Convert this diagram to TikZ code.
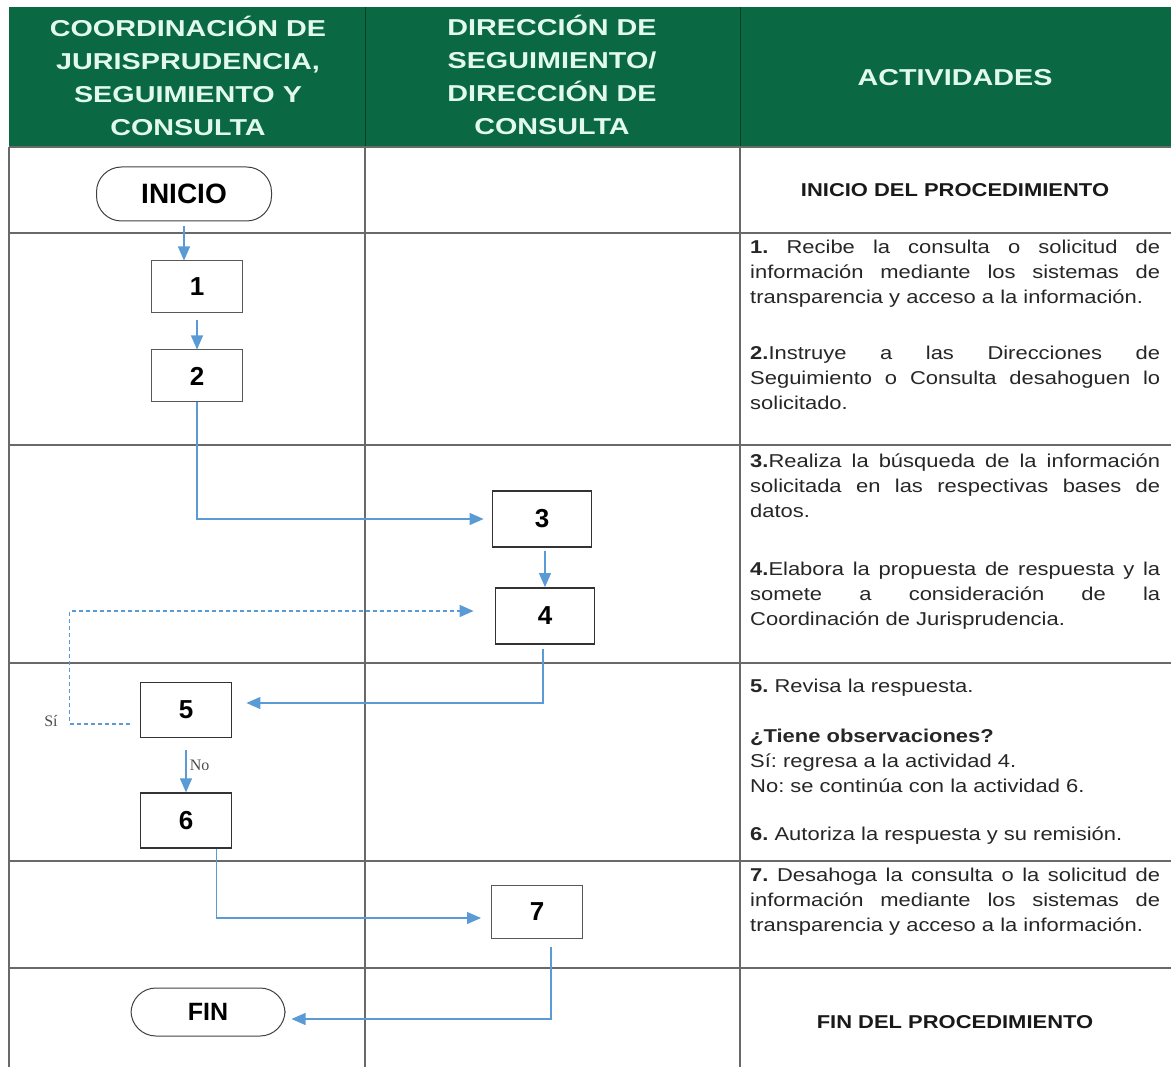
\documentclass[tikz,border=0pt]{standalone}
\usepackage{fontspec}
\setmainfont{Liberation Sans}
\newfontfamily\bodyfont[FakeStretch=1.18]{Liberation Sans}
\newfontfamily\headfont[FakeStretch=1.25]{Liberation Sans}
\newfontfamily\notefont{Liberation Serif}
\usepackage{tikz}
\usetikzlibrary{positioning}
\usetikzlibrary{shapes.geometric, arrows.meta}
\hyphenpenalty=10000
\exhyphenpenalty=10000
\frenchspacing
\definecolor{hdgreen}{RGB}{10,104,66}
\definecolor{hdtext}{RGB}{226,250,238}
\definecolor{flowblue}{RGB}{91,155,213}
\definecolor{gridgray}{RGB}{105,105,105}
\definecolor{txtgray}{RGB}{38,38,38}
\tikzstyle{arrow} = [line width=1.1pt,draw=flowblue,-{Triangle[length=14pt,width=12pt]}]
\tikzstyle{dasharrow} = [arrow,line width=1.2pt,dash pattern=on 4pt off 3pt]
\tikzstyle{numbox} = [draw=black!65,line width=1pt,minimum width=91pt,minimum height=52pt,font=\fontsize{26}{30}\selectfont\bfseries]
\tikzstyle{numboxb} = [numbox,draw=black!80,line width=1.8pt]
\tikzstyle{term} = [draw=black!75,line width=1pt,rounded corners=25pt]
\tikzstyle{headtxt} = [align=center,text=hdtext,font=\headfont\bfseries\fontsize{23}{33}\selectfont]
\tikzstyle{acttxt} = [anchor=north west,inner sep=0pt,text width=410pt,align=justify,text=txtgray,font=\bodyfont\fontsize{18.6}{25}\selectfont]
\tikzstyle{acthead} = [text=black!90,font=\bodyfont\bfseries\fontsize{18.6}{22}\selectfont]
\tikzstyle{grid} = [draw=gridgray,line width=1.2pt]
\tikzstyle{note} = [text=black!70,font=\notefont\fontsize{16}{18}\selectfont]

\begin{document}
\begin{tikzpicture}[x=1pt,y=-1pt]
\useasboundingbox (0,0) rectangle (1171,1067);

%Header
\fill[hdgreen] (9,7) rectangle (1171,147);
\draw[hdgreen!60!black,line width=1pt] (365,7) -- (365,147);
\draw[hdgreen!60!black,line width=1pt] (740,7) -- (740,147);
\node[headtxt] (hd1) at (188,76) {COORDINACIÓN DE\\JURISPRUDENCIA,\\SEGUIMIENTO Y\\CONSULTA};
\node[headtxt] (hd2) at (552,75) {DIRECCIÓN DE\\SEGUIMIENTO/\\DIRECCIÓN DE\\CONSULTA};
\node[headtxt] (hd3) at (955,78) {ACTIVIDADES};

%Grid
\draw[grid] (9,147) -- (9,1067);
\draw[grid] (365,147) -- (365,1067);
\draw[grid] (740,147) -- (740,1067);
\draw[grid] (9,147) -- (1171,147);
\draw[grid] (9,233) -- (1171,233);
\draw[grid] (9,445) -- (1171,445);
\draw[grid] (9,663) -- (1171,663);
\draw[grid] (9,861) -- (1171,861);
\draw[grid] (9,968) -- (1171,968);

%Nodes
\node[term,minimum width=175pt,minimum height=54pt,font=\bfseries\fontsize{28}{32}\selectfont] (ini) at (184,194) {INICIO};
\node[numbox] (b1) at (197,287) {1};
\node[numbox,below=36pt of b1] (b2) {2};
\node[numboxb,minimum width=99pt,minimum height=56pt] (b3) at (542,519) {3};
\node[numboxb,minimum width=99pt,minimum height=56pt] (b4) at (545,616) {4};
\node[numboxb,minimum height=55pt] (b5) at (186,710) {5};
\node[numboxb,minimum height=55pt,below=54pt of b5] (b6) {6};
\node[numbox,minimum height=53pt] (b7) at (537,912) {7};
\node[term,minimum width=154pt,minimum height=48pt,font=\bfseries\fontsize{25}{30}\selectfont] (fin) at (208,1012) {FIN};

%Activities
\node[acthead] (tini) at (955,190) {INICIO DEL PROCEDIMIENTO};
\node[acttxt] (t1) at (750,235.5) {\strut\textbf{1.} Recibe la consulta o solicitud de\linebreak información mediante los sistemas de\linebreak transparencia y acceso a la información.};
\node[acttxt] (t2) at (750,341.5) {\strut\textbf{2.}Instruye a las Direcciones de\linebreak Seguimiento o Consulta desahoguen lo\linebreak solicitado.};
\node[acttxt] (t3) at (750,449.5) {\strut\textbf{3.}Realiza la búsqueda de la información\linebreak solicitada en las respectivas bases de\linebreak datos.};
\node[acttxt] (t4) at (750,557.5) {\strut\textbf{4.}Elabora la propuesta de respuesta y la\linebreak somete a consideración de la\linebreak Coordinación de Jurisprudencia.};
\node[acttxt] (t5) at (750,674.5) {\strut\textbf{5.} Revisa la respuesta.};
\node[acttxt] (tq) at (750,724.5) {\strut\textbf{¿Tiene observaciones?}\\Sí: regresa a la actividad 4.\\No: se continúa con la actividad 6.};
\node[acttxt] (t6) at (750,822.5) {\strut\textbf{6.} Autoriza la respuesta y su remisión.};
\node[acttxt] (t7) at (750,863.5) {\strut\textbf{7.} Desahoga la consulta o la solicitud de\linebreak información mediante los sistemas de\linebreak transparencia y acceso a la información.};
\node[acthead] (tfin) at (955,1022) {FIN DEL PROCEDIMIENTO};

%Lines
\draw[arrow,shorten <=5pt] (ini.south) -- (ini.south |- b1.north);
\draw[arrow,shorten <=7pt] (b1.south) -- (b2.north);
\draw[arrow,shorten >=8pt] (b2.south) |- (b3.west);
\draw[arrow,shorten <=3pt] (b4.north |- b3.south) -- (b4.north);
\draw[arrow,shorten <=4pt,shorten >=14pt] ([xshift=-2pt]b4.south) |- ([yshift=7pt]b5.east);
\draw[dasharrow,shorten <=10pt,shorten >=21pt] ([yshift=-14pt]b5.west) -- ++(-70,0) node[note,left=8pt,yshift=3pt] (si) {Sí} |- ([yshift=5pt]b4.west);
\draw[arrow,shorten <=12pt] (b5.south) -- node[note,right] (no) {No} (b6.north);
\draw[arrow,shorten >=10pt] ([xshift=-16pt]b6.south east) |- ([yshift=-6pt]b7.west);
\draw[arrow,shorten <=8pt,shorten >=6pt] ([xshift=-32pt]b7.south east) |- ([yshift=-7pt]fin.east);

\end{tikzpicture}
\end{document}
